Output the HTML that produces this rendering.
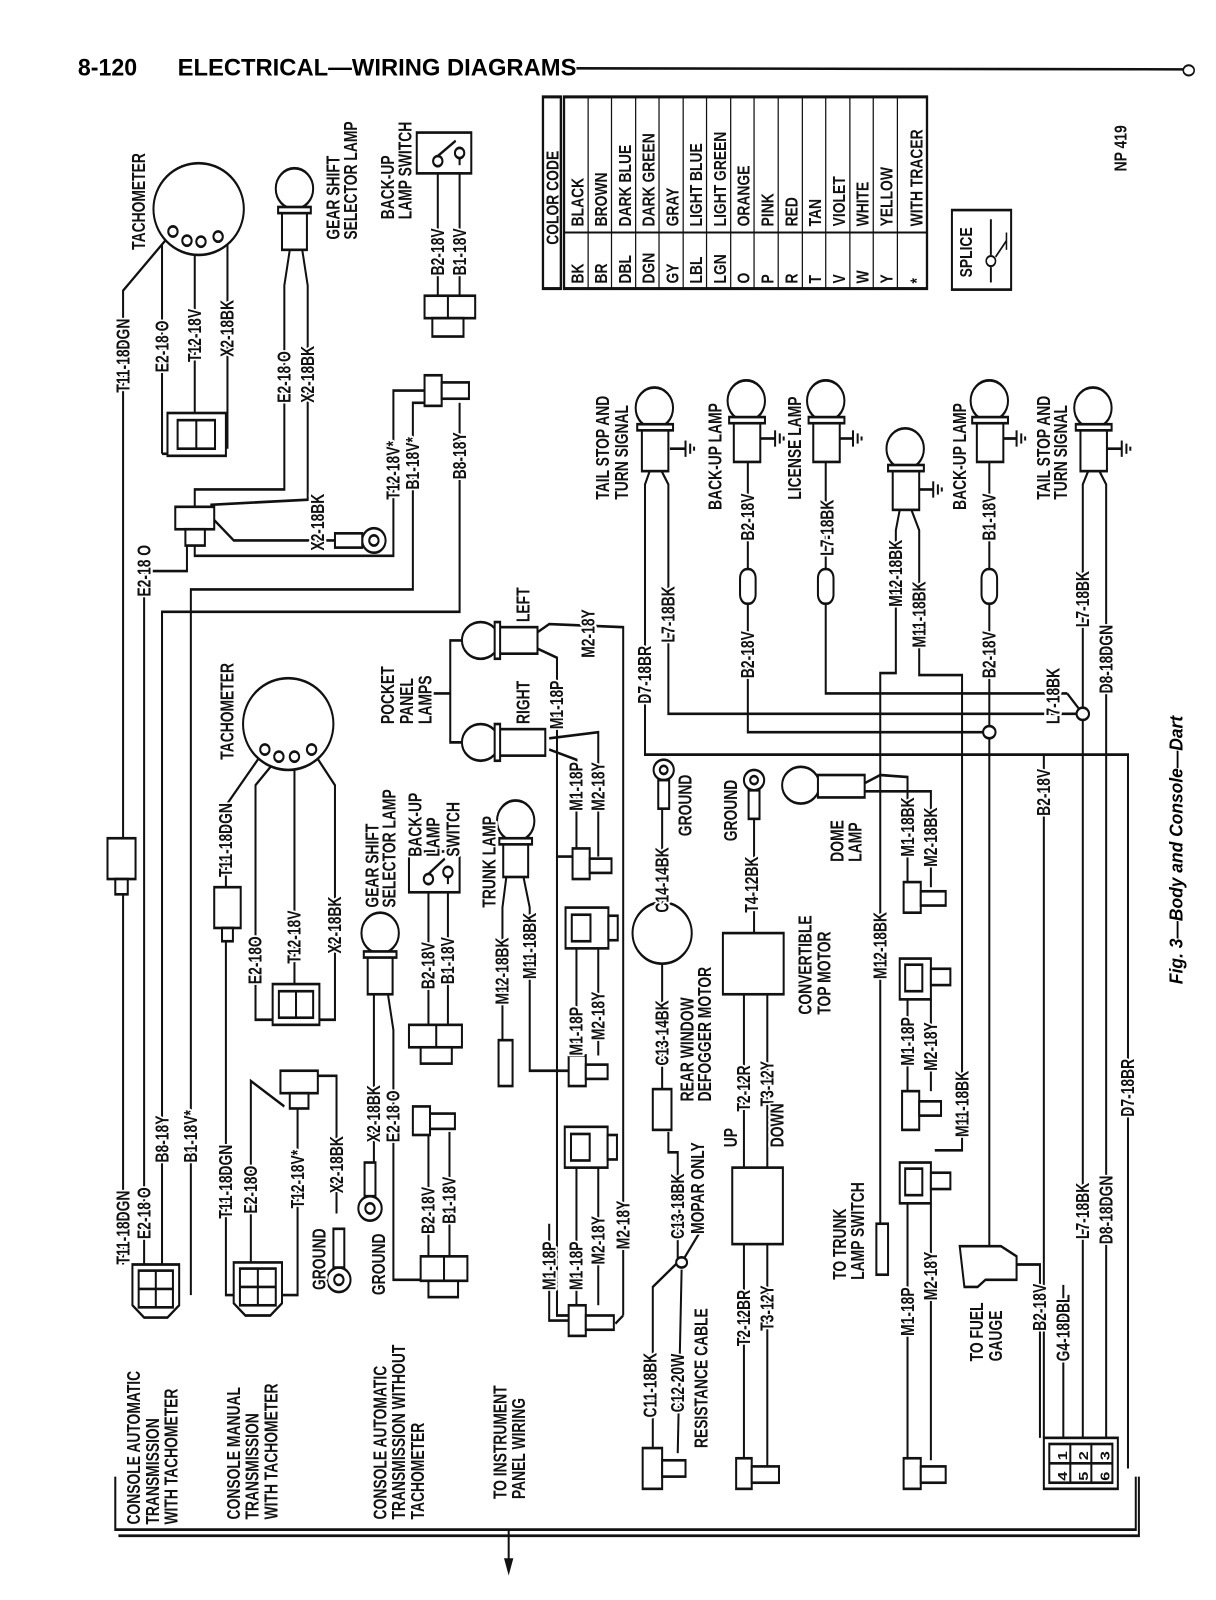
<!DOCTYPE html>
<html><head><meta charset="utf-8">
<style>
html,body{margin:0;padding:0;background:#fff;}
svg{display:block;}
.t{font-family:"Liberation Sans",sans-serif;font-weight:bold;font-size:16px;fill:#111;stroke:#fff;stroke-width:4px;paint-order:stroke;stroke-linejoin:round;}
.n{font-family:"Liberation Sans",sans-serif;font-weight:bold;font-size:16px;fill:#111;}
.w{fill:none;stroke:#111;stroke-width:2.6;}
.s{fill:#fff;stroke:#111;stroke-width:2.6;}
</style></head><body>
<svg width="1216" height="1600" viewBox="0 0 1561 1569" preserveAspectRatio="none" xmlns="http://www.w3.org/2000/svg">
<rect x="0" y="0" width="1561" height="1569" fill="#fff"/>
<!-- header -->
<text x="100" y="74" font-family="Liberation Sans,sans-serif" font-weight="bold" font-size="24" textLength="76" lengthAdjust="spacingAndGlyphs">8-120</text>
<text x="228" y="74" font-family="Liberation Sans,sans-serif" font-weight="bold" font-size="24" textLength="512" lengthAdjust="spacingAndGlyphs">ELECTRICAL—WIRING DIAGRAMS</text>
<line x1="740" y1="67" x2="1519" y2="68" stroke="#111" stroke-width="2.5"/>
<ellipse cx="1526" cy="69" rx="7" ry="5" fill="#fff" stroke="#111" stroke-width="2"/>

<!-- color table -->
<g stroke="#111" fill="none">
<rect x="697" y="95" width="23" height="188" stroke-width="3"/>
<rect x="724" y="95" width="466" height="188" stroke-width="3"/>
<line x1="724" y1="228" x2="1190" y2="228" stroke-width="2"/>
<g stroke-width="1.6">
<line x1="755" y1="95" x2="755" y2="283"/><line x1="785" y1="95" x2="785" y2="283"/><line x1="816" y1="95" x2="816" y2="283"/><line x1="846" y1="95" x2="846" y2="283"/><line x1="877" y1="95" x2="877" y2="283"/><line x1="907" y1="95" x2="907" y2="283"/><line x1="938" y1="95" x2="938" y2="283"/><line x1="968" y1="95" x2="968" y2="283"/><line x1="999" y1="95" x2="999" y2="283"/><line x1="1030" y1="95" x2="1030" y2="283"/><line x1="1060" y1="95" x2="1060" y2="283"/><line x1="1091" y1="95" x2="1091" y2="283"/><line x1="1121" y1="95" x2="1121" y2="283"/><line x1="1152" y1="95" x2="1152" y2="283"/>
</g></g>
<g class="n">
<text transform="translate(717 240) rotate(-90) scale(.85 1.4)">COLOR CODE</text>
<text transform="translate(749 278) rotate(-90) scale(.85 1.4)">BK</text><text transform="translate(749 222) rotate(-90) scale(.85 1.4)">BLACK</text>
<text transform="translate(779 278) rotate(-90) scale(.85 1.4)">BR</text><text transform="translate(779 222) rotate(-90) scale(.85 1.4)">BROWN</text>
<text transform="translate(810 278) rotate(-90) scale(.85 1.4)">DBL</text><text transform="translate(810 222) rotate(-90) scale(.85 1.4)">DARK BLUE</text>
<text transform="translate(840 278) rotate(-90) scale(.85 1.4)">DGN</text><text transform="translate(840 222) rotate(-90) scale(.85 1.4)">DARK GREEN</text>
<text transform="translate(871 278) rotate(-90) scale(.85 1.4)">GY</text><text transform="translate(871 222) rotate(-90) scale(.85 1.4)">GRAY</text>
<text transform="translate(901 278) rotate(-90) scale(.85 1.4)">LBL</text><text transform="translate(901 222) rotate(-90) scale(.85 1.4)">LIGHT BLUE</text>
<text transform="translate(932 278) rotate(-90) scale(.85 1.4)">LGN</text><text transform="translate(932 222) rotate(-90) scale(.85 1.4)">LIGHT GREEN</text>
<text transform="translate(962 278) rotate(-90) scale(.85 1.4)">O</text><text transform="translate(962 222) rotate(-90) scale(.85 1.4)">ORANGE</text>
<text transform="translate(993 278) rotate(-90) scale(.85 1.4)">P</text><text transform="translate(993 222) rotate(-90) scale(.85 1.4)">PINK</text>
<text transform="translate(1024 278) rotate(-90) scale(.85 1.4)">R</text><text transform="translate(1024 222) rotate(-90) scale(.85 1.4)">RED</text>
<text transform="translate(1054 278) rotate(-90) scale(.85 1.4)">T</text><text transform="translate(1054 222) rotate(-90) scale(.85 1.4)">TAN</text>
<text transform="translate(1085 278) rotate(-90) scale(.85 1.4)">V</text><text transform="translate(1085 222) rotate(-90) scale(.85 1.4)">VIOLET</text>
<text transform="translate(1115 278) rotate(-90) scale(.85 1.4)">W</text><text transform="translate(1115 222) rotate(-90) scale(.85 1.4)">WHITE</text>
<text transform="translate(1146 278) rotate(-90) scale(.85 1.4)">Y</text><text transform="translate(1146 222) rotate(-90) scale(.85 1.4)">YELLOW</text>
<text transform="translate(1184 278) rotate(-90) scale(.85 1.4)">*</text><text transform="translate(1184 222) rotate(-90) scale(.85 1.4)">WITH TRACER</text>
<text transform="translate(1248 272) rotate(-90) scale(.85 1.4)">SPLICE</text>
<text transform="translate(1446 168) rotate(-90) scale(.85 1.4)">NP 419</text>
</g>
<rect x="1222" y="206" width="76" height="78" fill="none" stroke="#111" stroke-width="2.6"/>
<line x1="1272" y1="215" x2="1272" y2="250" stroke="#111" stroke-width="2.5"/>
<line x1="1272" y1="262" x2="1272" y2="277" stroke="#111" stroke-width="2.5"/>
<ellipse cx="1272" cy="256" rx="6" ry="5" fill="#fff" stroke="#111" stroke-width="2"/>
<line x1="1278" y1="252" x2="1292" y2="236" stroke="#111" stroke-width="2"/>
<line x1="1292" y1="228" x2="1292" y2="245" stroke="#111" stroke-width="2"/>

<text transform="translate(1518 965) rotate(-90) scale(.95 1.35)" font-family="Liberation Sans,sans-serif" font-weight="bold" font-style="italic" font-size="18">Fig. 3—Body and Console—Dart</text>

<!-- ================= WIRES ================= -->
<g class="w">
<polyline points="222,227 158,285 158,1240"/>
<polyline points="208,240 208,445"/>
<polyline points="250,237 250,410"/>
<polyline points="292,232 292,440"/>
<polyline points="208,445 215,445"/>
<polyline points="372,245 365,280 365,480 250,480 250,500"/>
<polyline points="388,245 395,280 395,490 270,495"/>
<polyline points="562,160 562,290"/><polyline points="590,160 590,290"/>
<polyline points="545,383 505,383 505,545 250,545 250,535"/>
<polyline points="558,395 530,395 530,578 245,578 245,1270"/>
<polyline points="590,395 590,600 208,600 208,1240"/>
<polyline points="275,510 300,530 430,530"/>
<polyline points="240,535 240,560 185,560 185,1240"/>
<polyline points="340,735 290,790 290,1270 300,1270"/>
<polyline points="358,742 328,770 328,1000 352,1000"/>
<polyline points="378,742 378,968"/>
<polyline points="400,735 430,770 430,1000 408,1000"/>
<polyline points="365,1085 322,1060 322,1270 300,1270"/>
<polyline points="382,1085 382,1270 360,1270"/>
<polyline points="395,1055 432,1055 432,1190"/>
<polyline points="432,1210 432,1225"/>
<polyline points="480,975 480,1185"/>
<polyline points="498,975 505,1010 505,1255 540,1255"/>
<polyline points="550,865 550,1005"/><polyline points="575,865 575,1005"/>
<polyline points="550,1110 550,1235"/><polyline points="577,1110 577,1235"/>
<polyline points="595,628 578,628 578,728 595,728"/>
<polyline points="578,680 555,680"/>
<polyline points="690,620 705,612 800,615 800,1290"/>
<polyline points="690,636 715,645 715,840 740,840"/>
<polyline points="705,724 768,718 768,840"/>
<polyline points="705,735 740,745 740,840"/>
<polyline points="715,840 715,1290 735,1290"/>
<polyline points="650,860 645,890 645,1025"/>
<polyline points="672,860 680,890 680,1050 735,1050"/>
<polyline points="740,930 740,1035"/><polyline points="768,930 768,1035"/>
<polyline points="740,1145 740,1280"/><polyline points="768,1145 768,1280"/>
<polyline points="705,1200 705,1295 735,1295"/>
<polyline points="800,1290 790,1298"/>
<polyline points="850,790 850,885"/>
<polyline points="850,945 850,1068"/>
<polyline points="858,1110 858,1130 870,1130 870,1238"/>
<polyline points="870,1238 838,1262 838,1425"/>
<polyline points="875,1245 870,1425"/>
<polyline points="875,1238 905,1200"/>
<polyline points="835,460 828,475 828,740 1448,740 1448,1440"/>
<polyline points="848,460 858,475 858,700 1390,700"/>
<polyline points="860,440 880,440"/>
<polyline points="960,450 960,718 1270,718"/>
<polyline points="1060,450 1060,680 1370,680"/>
<polyline points="975,430 995,430"/><polyline points="1075,430 1095,430"/>
<polyline points="1155,500 1150,520 1150,660 1130,660 1130,1200"/>
<polyline points="1170,500 1180,520 1180,662 1235,662 1235,1128 1200,1128"/>
<polyline points="1180,480 1198,480"/>
<polyline points="1270,450 1270,1240"/>
<polyline points="1285,430 1305,430"/>
<polyline points="1398,460 1390,475 1390,1410"/>
<polyline points="1410,460 1420,475 1420,1410"/>
<polyline points="1420,440 1440,440"/>
<polyline points="1370,680 1390,700"/>
<polyline points="1340,740 1340,1410"/>
<polyline points="1270,1240 1300,1240 1335,1240 1335,1410"/>
<polyline points="1365,1260 1365,1410"/>
<polyline points="968,790 968,918"/>
<polyline points="955,975 955,1148"/><polyline points="985,975 985,1148"/>
<polyline points="955,1218 955,1430"/><polyline points="985,1218 985,1440"/>
<polyline points="1110,768 1130,760 1165,762 1165,870"/>
<polyline points="1110,776 1195,776 1195,870"/>
<polyline points="1165,980 1165,1070"/><polyline points="1195,980 1195,1070"/>
<polyline points="1165,1180 1165,1430"/><polyline points="1195,1180 1195,1432"/>
<polyline points="148,1448 148,1500 1458,1500 1458,1448"/>
<polyline points="152,1506 1462,1506 1462,1448"/>
<polyline points="653,1500 653,1540"/>
</g>
<polygon points="647,1528 659,1528 653,1545" fill="#111"/>
<ellipse cx="1270" cy="718" rx="8" ry="6" class="s"/>
<ellipse cx="1390" cy="700" rx="8" ry="6" class="s"/>
<ellipse cx="875" cy="1238" rx="7" ry="5" class="s"/>

<!-- ================= COMPONENTS ================= -->
<ellipse cx="255" cy="205" rx="58" ry="45" class="s"/>
<g class="s" stroke-width="2"><ellipse cx="222" cy="227" rx="6" ry="5"/><ellipse cx="240" cy="236" rx="6" ry="5"/><ellipse cx="258" cy="237" rx="6" ry="5"/><ellipse cx="280" cy="232" rx="6" ry="5"/></g>
<ellipse cx="370" cy="710" rx="58" ry="45" class="s"/>
<g class="s" stroke-width="2"><ellipse cx="340" cy="735" rx="6" ry="5"/><ellipse cx="358" cy="742" rx="6" ry="5"/><ellipse cx="378" cy="742" rx="6" ry="5"/><ellipse cx="400" cy="735" rx="6" ry="5"/></g>
<g class="s">
<rect x="215" y="405" width="75" height="42"/><rect x="228" y="412" width="48" height="28"/><line x1="252" y1="412" x2="252" y2="440"/>
<rect x="350" y="965" width="60" height="40"/><rect x="358" y="972" width="44" height="26"/><line x1="380" y1="972" x2="380" y2="998"/>
<rect x="225" y="497" width="50" height="22"/><rect x="238" y="519" width="25" height="16"/>
<rect x="360" y="1050" width="48" height="22"/><rect x="372" y="1072" width="24" height="15"/>
<rect x="138" y="822" width="36" height="40"/><rect x="148" y="862" width="16" height="15"/>
<rect x="275" y="870" width="34" height="40"/><rect x="285" y="910" width="14" height="13"/>
<path d="M170,1240 H230 V1280 L215,1292 H185 L170,1280 Z"/><rect x="178" y="1246" width="44" height="36"/><line x1="200" y1="1246" x2="200" y2="1282"/><line x1="178" y1="1264" x2="222" y2="1264"/>
<path d="M300,1238 H362 V1278 L347,1290 H315 L300,1278 Z"/><rect x="308" y="1244" width="46" height="36"/><line x1="331" y1="1244" x2="331" y2="1280"/><line x1="308" y1="1262" x2="354" y2="1262"/>
<ellipse cx="378" cy="185" rx="24" ry="20"/><rect x="362" y="205" width="32" height="40"/><rect x="357" y="203" width="42" height="6"/>
<ellipse cx="488" cy="915" rx="24" ry="20"/><rect x="472" y="935" width="32" height="40"/><rect x="467" y="933" width="42" height="6"/>
<rect x="535" y="130" width="70" height="40"/>
<rect x="525" y="835" width="65" height="40"/>
<rect x="545" y="290" width="65" height="22"/><rect x="555" y="312" width="40" height="18"/><line x1="575" y1="290" x2="575" y2="312"/>
<rect x="545" y="368" width="22" height="30"/><rect x="567" y="375" width="35" height="16"/>
<rect x="525" y="1005" width="68" height="22"/><rect x="540" y="1027" width="40" height="16"/><line x1="560" y1="1005" x2="560" y2="1027"/>
<rect x="530" y="1085" width="22" height="28"/><rect x="552" y="1092" width="32" height="15"/>
<rect x="540" y="1232" width="60" height="24"/><rect x="550" y="1256" width="38" height="16"/><line x1="570" y1="1232" x2="570" y2="1256"/>
<ellipse cx="617" cy="628" rx="24" ry="18"/><rect x="640" y="615" width="50" height="26"/><rect x="635" y="610" width="7" height="36"/>
<ellipse cx="617" cy="728" rx="24" ry="18"/><rect x="640" y="715" width="60" height="26"/><rect x="635" y="710" width="7" height="36"/>
<ellipse cx="662" cy="805" rx="24" ry="20"/><rect x="646" y="825" width="32" height="35"/><rect x="641" y="822" width="42" height="6"/>
<rect x="735" y="832" width="22" height="30"/><rect x="757" y="842" width="28" height="14"/>
<rect x="726" y="890" width="55" height="40"/><rect x="734" y="897" width="24" height="26"/><rect x="781" y="898" width="12" height="24"/>
<rect x="730" y="1035" width="22" height="30"/><rect x="752" y="1044" width="28" height="14"/>
<rect x="725" y="1105" width="55" height="40"/><rect x="733" y="1112" width="24" height="26"/><rect x="780" y="1113" width="12" height="24"/>
<rect x="730" y="1280" width="22" height="30"/><rect x="752" y="1290" width="36" height="14"/>
<rect x="640" y="1020" width="18" height="45"/>
<ellipse cx="850" cy="915" rx="38" ry="30"/>
<rect x="838" y="1068" width="24" height="40"/>
<rect x="825" y="1420" width="25" height="40"/><rect x="850" y="1432" width="30" height="16"/>
<rect x="928" y="915" width="78" height="60"/>
<rect x="940" y="1145" width="65" height="75"/>
<rect x="945" y="1430" width="20" height="30"/><rect x="965" y="1438" width="35" height="16"/>
<ellipse cx="840" cy="400" rx="24" ry="20"/><rect x="824" y="420" width="34" height="42"/><rect x="818" y="416" width="46" height="6"/>
<ellipse cx="958" cy="393" rx="24" ry="20"/><rect x="942" y="413" width="34" height="40"/><rect x="936" y="409" width="46" height="6"/>
<ellipse cx="1060" cy="393" rx="24" ry="20"/><rect x="1044" y="413" width="34" height="40"/><rect x="1038" y="409" width="46" height="6"/>
<ellipse cx="1162" cy="440" rx="24" ry="20"/><rect x="1146" y="460" width="34" height="40"/><rect x="1140" y="456" width="46" height="6"/>
<ellipse cx="1270" cy="393" rx="24" ry="20"/><rect x="1254" y="413" width="34" height="40"/><rect x="1248" y="409" width="46" height="6"/>
<ellipse cx="1403" cy="400" rx="24" ry="20"/><rect x="1387" y="420" width="34" height="42"/><rect x="1381" y="416" width="46" height="6"/>
<rect x="950" y="558" width="20" height="34" rx="9"/><rect x="1050" y="558" width="20" height="34" rx="9"/><rect x="1260" y="558" width="20" height="34" rx="9"/>
<ellipse cx="1028" cy="770" rx="24" ry="18"/><rect x="1050" y="760" width="60" height="22"/>
<rect x="1160" y="865" width="22" height="30"/><rect x="1182" y="874" width="32" height="14"/>
<rect x="1155" y="940" width="40" height="40"/><rect x="1162" y="946" width="22" height="26"/><rect x="1195" y="950" width="25" height="16"/>
<rect x="1158" y="1070" width="22" height="38"/><rect x="1180" y="1080" width="28" height="14"/>
<rect x="1155" y="1140" width="40" height="40"/><rect x="1162" y="1146" width="22" height="26"/><rect x="1195" y="1150" width="25" height="16"/>
<rect x="1125" y="1200" width="15" height="50"/>
<rect x="1160" y="1430" width="22" height="30"/><rect x="1182" y="1438" width="32" height="16"/>
<path d="M1232,1222 H1285 L1305,1232 V1255 H1265 L1255,1262 H1238 Z"/>
<rect x="1340" y="1410" width="95" height="50"/><rect x="1347" y="1416" width="81" height="38"/>
<line x1="1374" y1="1416" x2="1374" y2="1454"/><line x1="1401" y1="1416" x2="1401" y2="1454"/><line x1="1347" y1="1435" x2="1428" y2="1435"/>
</g>
<!-- switch contacts -->
<g class="s" stroke-width="2">
<ellipse cx="562" cy="158" rx="6" ry="5"/><ellipse cx="590" cy="150" rx="6" ry="5"/>
<ellipse cx="550" cy="862" rx="6" ry="5"/><ellipse cx="575" cy="855" rx="6" ry="5"/>
</g>
<g class="w" stroke-width="2">
<line x1="562" y1="153" x2="585" y2="138"/><line x1="590" y1="155" x2="590" y2="162"/>
<line x1="550" y1="857" x2="571" y2="842"/><line x1="575" y1="860" x2="575" y2="867"/>
</g>
<g class="n" font-size="13">
<text transform="translate(1370 1432) rotate(-90)">1</text><text transform="translate(1397 1432) rotate(-90)">2</text><text transform="translate(1424 1432) rotate(-90)">3</text>
<text transform="translate(1370 1452) rotate(-90)">4</text><text transform="translate(1397 1452) rotate(-90)">5</text><text transform="translate(1424 1452) rotate(-90)">6</text>
</g>
<g class="w" stroke-width="2.2">
<line x1="880" y1="432" x2="880" y2="448"/><line x1="886" y1="435" x2="886" y2="445"/><line x1="891" y1="438" x2="891" y2="442"/>
<line x1="995" y1="422" x2="995" y2="438"/><line x1="1001" y1="425" x2="1001" y2="435"/><line x1="1006" y1="428" x2="1006" y2="432"/>
<line x1="1095" y1="422" x2="1095" y2="438"/><line x1="1101" y1="425" x2="1101" y2="435"/><line x1="1106" y1="428" x2="1106" y2="432"/>
<line x1="1198" y1="472" x2="1198" y2="488"/><line x1="1204" y1="475" x2="1204" y2="485"/><line x1="1209" y1="478" x2="1209" y2="482"/>
<line x1="1305" y1="422" x2="1305" y2="438"/><line x1="1311" y1="425" x2="1311" y2="435"/><line x1="1316" y1="428" x2="1316" y2="432"/>
<line x1="1440" y1="432" x2="1440" y2="448"/><line x1="1446" y1="435" x2="1446" y2="445"/><line x1="1451" y1="438" x2="1451" y2="442"/>
</g>
<g class="s" stroke-width="2.2">
<ellipse cx="480" cy="530" rx="15" ry="12"/><ellipse cx="480" cy="530" rx="6" ry="5"/><rect x="430" y="523" width="35" height="14"/>
<ellipse cx="435" cy="1255" rx="15" ry="12"/><ellipse cx="435" cy="1255" rx="6" ry="5"/><rect x="428" y="1205" width="14" height="38"/>
<ellipse cx="475" cy="1185" rx="15" ry="12"/><ellipse cx="475" cy="1185" rx="6" ry="5"/><rect x="468" y="1140" width="14" height="33"/>
<ellipse cx="852" cy="755" rx="13" ry="10"/><ellipse cx="852" cy="755" rx="5" ry="4"/><rect x="845" y="765" width="14" height="28"/>
<ellipse cx="968" cy="765" rx="13" ry="10"/><ellipse cx="968" cy="765" rx="5" ry="4"/><rect x="961" y="775" width="14" height="28"/>
</g>

<!-- ================= LABELS ================= -->
<g class="t">
<text transform="translate(186 245) rotate(-90) scale(.85 1.45)">TACHOMETER</text>
<text transform="translate(166 385) rotate(-90) scale(.85 1.45)">T11-18DGN</text>
<text transform="translate(216 365) rotate(-90) scale(.85 1.45)">E2-18 O</text>
<text transform="translate(258 355) rotate(-90) scale(.85 1.45)">T12-18V</text>
<text transform="translate(300 350) rotate(-90) scale(.85 1.45)">X2-18BK</text>
<text transform="translate(373 395) rotate(-90) scale(.85 1.45)">E2-18 O</text>
<text transform="translate(403 395) rotate(-90) scale(.85 1.45)">X2-18BK</text>
<text transform="translate(436 235) rotate(-90) scale(.85 1.45)">GEAR SHIFT</text>
<text transform="translate(458 235) rotate(-90) scale(.85 1.45)">SELECTOR LAMP</text>
<text transform="translate(506 215) rotate(-90) scale(.85 1.45)">BACK-UP</text>
<text transform="translate(528 215) rotate(-90) scale(.85 1.45)">LAMP SWITCH</text>
<text transform="translate(570 270) rotate(-90) scale(.85 1.45)">B2-18V</text>
<text transform="translate(598 270) rotate(-90) scale(.85 1.45)">B1-18V</text>
<text transform="translate(513 490) rotate(-90) scale(.85 1.45)">T12-18V*</text>
<text transform="translate(538 480) rotate(-90) scale(.85 1.45)">B1-18V*</text>
<text transform="translate(598 470) rotate(-90) scale(.85 1.45)">B8-18Y</text>
<text transform="translate(416 540) rotate(-90) scale(.85 1.45)">X2-18BK</text>
<text transform="translate(193 585) rotate(-90) scale(.85 1.45)">E2-18 O</text>
<text transform="translate(166 1240) rotate(-90) scale(.85 1.45)">T11-18DGN</text>
<text transform="translate(193 1215) rotate(-90) scale(.85 1.45)">E2-18 O</text>
<text transform="translate(216 1140) rotate(-90) scale(.85 1.45)">B8-18Y</text>
<text transform="translate(253 1140) rotate(-90) scale(.85 1.45)">B1-18V*</text>
<text transform="translate(180 1495) rotate(-90) scale(.85 1.45)">CONSOLE AUTOMATIC</text>
<text transform="translate(204 1495) rotate(-90) scale(.85 1.45)">TRANSMISSION</text>
<text transform="translate(228 1495) rotate(-90) scale(.85 1.45)">WITH TACHOMETER</text>
<text transform="translate(300 745) rotate(-90) scale(.85 1.45)">TACHOMETER</text>
<text transform="translate(298 860) rotate(-90) scale(.85 1.45)">T11-18DGN</text>
<text transform="translate(336 965) rotate(-90) scale(.85 1.45)">E2-18O</text>
<text transform="translate(386 945) rotate(-90) scale(.85 1.45)">T12-18V</text>
<text transform="translate(438 935) rotate(-90) scale(.85 1.45)">X2-18BK</text>
<text transform="translate(298 1195) rotate(-90) scale(.85 1.45)">T11-18DGN</text>
<text transform="translate(330 1190) rotate(-90) scale(.85 1.45)">E2-18O</text>
<text transform="translate(390 1185) rotate(-90) scale(.85 1.45)">T12-18V*</text>
<text transform="translate(440 1170) rotate(-90) scale(.85 1.45)">X2-18BK</text>
<text transform="translate(308 1490) rotate(-90) scale(.85 1.45)">CONSOLE MANUAL</text>
<text transform="translate(332 1490) rotate(-90) scale(.85 1.45)">TRANSMISSION</text>
<text transform="translate(356 1490) rotate(-90) scale(.85 1.45)">WITH TACHOMETER</text>
<text transform="translate(418 1265) rotate(-90) scale(.85 1.45)">GROUND</text>
<text transform="translate(494 1270) rotate(-90) scale(.85 1.45)">GROUND</text>
<text transform="translate(488 1120) rotate(-90) scale(.85 1.45)">X2-18BK</text>
<text transform="translate(513 1120) rotate(-90) scale(.85 1.45)">E2-18 O</text>
<text transform="translate(486 890) rotate(-90) scale(.85 1.45)">GEAR SHIFT</text>
<text transform="translate(508 890) rotate(-90) scale(.85 1.45)">SELECTOR LAMP</text>
<text transform="translate(541 840) rotate(-90) scale(.85 1.45)">BACK-UP</text>
<text transform="translate(564 840) rotate(-90) scale(.85 1.45)">LAMP</text>
<text transform="translate(590 840) rotate(-90) scale(.85 1.45)">SWITCH</text>
<text transform="translate(558 970) rotate(-90) scale(.85 1.45)">B2-18V</text>
<text transform="translate(583 965) rotate(-90) scale(.85 1.45)">B1-18V</text>
<text transform="translate(558 1210) rotate(-90) scale(.85 1.45)">B2-18V</text>
<text transform="translate(585 1200) rotate(-90) scale(.85 1.45)">B1-18V</text>
<text transform="translate(496 1490) rotate(-90) scale(.85 1.45)">CONSOLE AUTOMATIC</text>
<text transform="translate(520 1490) rotate(-90) scale(.85 1.45)">TRANSMISSION WITHOUT</text>
<text transform="translate(544 1490) rotate(-90) scale(.85 1.45)">TACHOMETER</text>
<text transform="translate(650 1470) rotate(-90) scale(.85 1.45)">TO INSTRUMENT</text>
<text transform="translate(674 1470) rotate(-90) scale(.85 1.45)">PANEL WIRING</text>
<text transform="translate(506 710) rotate(-90) scale(.85 1.45)">POCKET</text>
<text transform="translate(530 710) rotate(-90) scale(.85 1.45)">PANEL</text>
<text transform="translate(554 710) rotate(-90) scale(.85 1.45)">LAMPS</text>
<text transform="translate(680 610) rotate(-90) scale(.85 1.45)">LEFT</text>
<text transform="translate(680 710) rotate(-90) scale(.85 1.45)">RIGHT</text>
<text transform="translate(723 715) rotate(-90) scale(.85 1.45)">M1-18P</text>
<text transform="translate(763 645) rotate(-90) scale(.85 1.45)">M2-18Y</text>
<text transform="translate(636 890) rotate(-90) scale(.85 1.45)">TRUNK LAMP</text>
<text transform="translate(748 795) rotate(-90) scale(.85 1.45)">M1-18P</text>
<text transform="translate(776 795) rotate(-90) scale(.85 1.45)">M2-18Y</text>
<text transform="translate(653 985) rotate(-90) scale(.85 1.45)">M12-18BK</text>
<text transform="translate(688 960) rotate(-90) scale(.85 1.45)">M11-18BK</text>
<text transform="translate(748 1035) rotate(-90) scale(.85 1.45)">M1-18P</text>
<text transform="translate(776 1020) rotate(-90) scale(.85 1.45)">M2-18Y</text>
<text transform="translate(713 1265) rotate(-90) scale(.85 1.45)">M1-18P</text>
<text transform="translate(748 1265) rotate(-90) scale(.85 1.45)">M1-18P</text>
<text transform="translate(776 1240) rotate(-90) scale(.85 1.45)">M2-18Y</text>
<text transform="translate(808 1225) rotate(-90) scale(.85 1.45)">M2-18Y</text>
<text transform="translate(858 895) rotate(-90) scale(.85 1.45)">C14-14BK</text>
<text transform="translate(888 820) rotate(-90) scale(.85 1.45)">GROUND</text>
<text transform="translate(858 1045) rotate(-90) scale(.85 1.45)">C13-14BK</text>
<text transform="translate(890 1080) rotate(-90) scale(.85 1.45)">REAR WINDOW</text>
<text transform="translate(913 1080) rotate(-90) scale(.85 1.45)">DEFOGGER MOTOR</text>
<text transform="translate(904 1210) rotate(-90) scale(.85 1.45)">MOPAR ONLY</text>
<text transform="translate(878 1215) rotate(-90) scale(.85 1.45)">C13-18BK</text>
<text transform="translate(843 1390) rotate(-90) scale(.85 1.45)">C11-18BK</text>
<text transform="translate(878 1385) rotate(-90) scale(.85 1.45)">C12-20W</text>
<text transform="translate(908 1420) rotate(-90) scale(.85 1.45)">RESISTANCE CABLE</text>
<text transform="translate(836 690) rotate(-90) scale(.85 1.45)">D7-18BR</text>
<text transform="translate(866 630) rotate(-90) scale(.85 1.45)">L7-18BK</text>
<text transform="translate(782 490) rotate(-90) scale(.85 1.45)">TAIL STOP AND</text>
<text transform="translate(806 490) rotate(-90) scale(.85 1.45)">TURN SIGNAL</text>
<text transform="translate(946 825) rotate(-90) scale(.85 1.45)">GROUND</text>
<text transform="translate(973 895) rotate(-90) scale(.85 1.45)">T4-12BK</text>
<text transform="translate(1042 995) rotate(-90) scale(.85 1.45)">CONVERTIBLE</text>
<text transform="translate(1066 995) rotate(-90) scale(.85 1.45)">TOP MOTOR</text>
<text transform="translate(963 1090) rotate(-90) scale(.85 1.45)">T2-12R</text>
<text transform="translate(993 1085) rotate(-90) scale(.85 1.45)">T3-12Y</text>
<text transform="translate(946 1125) rotate(-90) scale(.85 1.45)">UP</text>
<text transform="translate(1006 1125) rotate(-90) scale(.85 1.45)">DOWN</text>
<text transform="translate(963 1320) rotate(-90) scale(.85 1.45)">T2-12BR</text>
<text transform="translate(993 1305) rotate(-90) scale(.85 1.45)">T3-12Y</text>
<text transform="translate(926 500) rotate(-90) scale(.85 1.45)">BACK-UP LAMP</text>
<text transform="translate(968 530) rotate(-90) scale(.85 1.45)">B2-18V</text>
<text transform="translate(968 665) rotate(-90) scale(.85 1.45)">B2-18V</text>
<text transform="translate(1028 490) rotate(-90) scale(.85 1.45)">LICENSE LAMP</text>
<text transform="translate(1070 545) rotate(-90) scale(.85 1.45)">L7-18BK</text>
<text transform="translate(1158 595) rotate(-90) scale(.85 1.45)">M12-18BK</text>
<text transform="translate(1188 635) rotate(-90) scale(.85 1.45)">M11-18BK</text>
<text transform="translate(1240 500) rotate(-90) scale(.85 1.45)">BACK-UP LAMP</text>
<text transform="translate(1278 530) rotate(-90) scale(.85 1.45)">B1-18V</text>
<text transform="translate(1278 665) rotate(-90) scale(.85 1.45)">B2-18V</text>
<text transform="translate(1348 490) rotate(-90) scale(.85 1.45)">TAIL STOP AND</text>
<text transform="translate(1370 490) rotate(-90) scale(.85 1.45)">TURN SIGNAL</text>
<text transform="translate(1398 615) rotate(-90) scale(.85 1.45)">L7-18BK</text>
<text transform="translate(1428 680) rotate(-90) scale(.85 1.45)">D8-18DGN</text>
<text transform="translate(1360 710) rotate(-90) scale(.85 1.45)">L7-18BK</text>
<text transform="translate(1348 800) rotate(-90) scale(.85 1.45)">B2-18V</text>
<text transform="translate(1083 845) rotate(-90) scale(.85 1.45)">DOME</text>
<text transform="translate(1106 845) rotate(-90) scale(.85 1.45)">LAMP</text>
<text transform="translate(1173 840) rotate(-90) scale(.85 1.45)">M1-18BK</text>
<text transform="translate(1203 850) rotate(-90) scale(.85 1.45)">M2-18BK</text>
<text transform="translate(1138 960) rotate(-90) scale(.85 1.45)">M12-18BK</text>
<text transform="translate(1173 1045) rotate(-90) scale(.85 1.45)">M1-18P</text>
<text transform="translate(1203 1050) rotate(-90) scale(.85 1.45)">M2-18Y</text>
<text transform="translate(1243 1115) rotate(-90) scale(.85 1.45)">M11-18BK</text>
<text transform="translate(1086 1255) rotate(-90) scale(.85 1.45)">TO TRUNK</text>
<text transform="translate(1109 1255) rotate(-90) scale(.85 1.45)">LAMP SWITCH</text>
<text transform="translate(1173 1310) rotate(-90) scale(.85 1.45)">M1-18P</text>
<text transform="translate(1203 1275) rotate(-90) scale(.85 1.45)">M2-18Y</text>
<text transform="translate(1262 1335) rotate(-90) scale(.85 1.45)">TO FUEL</text>
<text transform="translate(1286 1335) rotate(-90) scale(.85 1.45)">GAUGE</text>
<text transform="translate(1343 1305) rotate(-90) scale(.85 1.45)">B2-18V</text>
<text transform="translate(1373 1335) rotate(-90) scale(.85 1.45)">G4-18DBL</text>
<text transform="translate(1398 1215) rotate(-90) scale(.85 1.45)">L7-18BK</text>
<text transform="translate(1428 1220) rotate(-90) scale(.85 1.45)">D8-18DGN</text>
<text transform="translate(1456 1095) rotate(-90) scale(.85 1.45)">D7-18BR</text>
</g>
</svg>
</body></html>
